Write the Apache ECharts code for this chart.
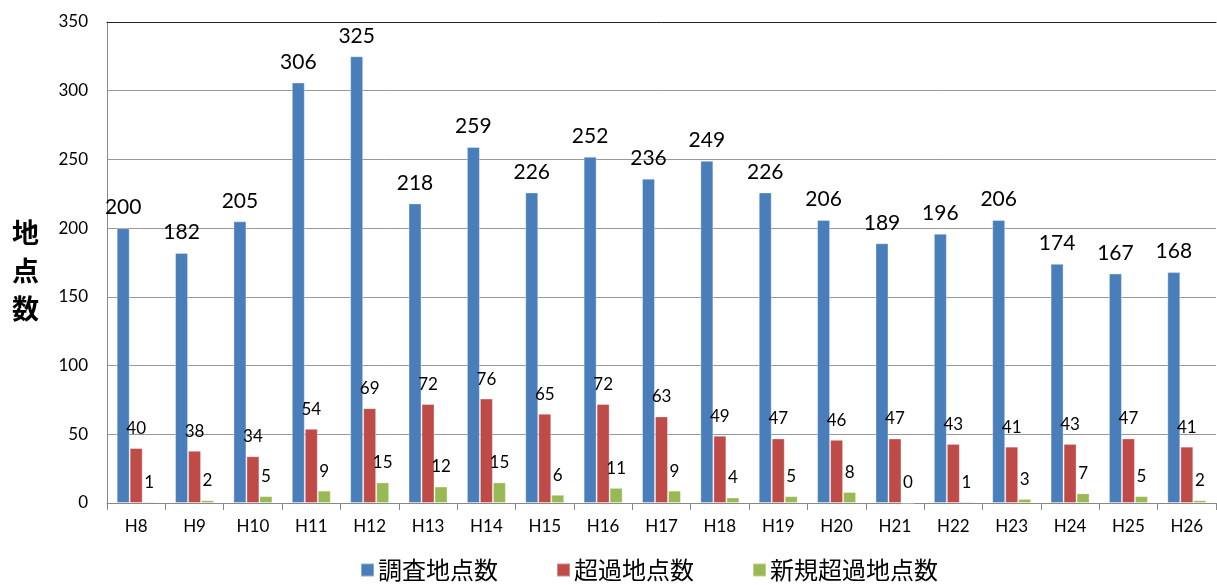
<!DOCTYPE html>
<html>
<head>
<meta charset="utf-8">
<script src="https://cdn.jsdelivr.net/npm/echarts@6/dist/echarts.min.js"></script>
<style>
  html, body { margin: 0; padding: 0; background: #fff; }
  #chart { width: 1217px; height: 585px; }
</style>
</head>
<body>
<div id="chart"></div>
<script>
const categories = ["H8", "H9", "H10", "H11", "H12", "H13", "H14", "H15", "H16", "H17",
  "H18", "H19", "H20", "H21", "H22", "H23", "H24", "H25", "H26"];
const surveyed = [200, 182, 205, 306, 325, 218, 259, 226, 252, 236, 249, 226, 206, 189, 196, 206, 174, 167, 168];
const exceeded = [40, 38, 34, 54, 69, 72, 76, 65, 72, 63, 49, 47, 46, 47, 43, 41, 43, 47, 41];
const newExceeded = [1, 2, 5, 9, 15, 12, 15, 6, 11, 9, 4, 5, 8, 0, 1, 3, 7, 5, 2];
const seriesNames = ["調査地点数", "超過地点数", "新規超過地点数"];

const latin = "Lato, 'Open Sans', sans-serif";
const jp = "'Noto Sans CJK JP', sans-serif";

const chart = echarts.init(document.getElementById("chart"));

function barSeries(name, data, color, fontSize, dist) {
  return {
    name: name,
    type: "bar",
    data: data,
    barWidth: 13,
    barGap: "0%",
    itemStyle: { color: color, borderColor: "rgba(255,255,255,0.35)", borderWidth: 1 },
    label: {
      show: true,
      position: "top",
      distance: dist,
      color: "#000",
      fontSize: fontSize,
      fontFamily: latin
    }
  };
}

chart.setOption({
  animation: false,
  grid: { left: 107, right: 1, top: 22, bottom: 82 },
  legend: {
    top: 558,
    left: 360,
    padding: 0,
    itemWidth: 13,
    itemHeight: 13,
    itemGap: 58,
    icon: "rect",
    textStyle: { fontSize: 24, fontFamily: jp, color: "#000", padding: [0, 0, 0, -1] },
    data: seriesNames
  },
  graphic: [{
    type: "text",
    left: 12,
    top: 214,
    style: {
      text: "地\n点\n数",
      font: "bold 27px 'Noto Sans CJK JP', sans-serif",
      lineHeight: 38,
      fill: "#000"
    }
  }],
  xAxis: [{
    type: "category",
    data: categories,
    axisLine: { lineStyle: { color: "#888" } },
    axisTick: { show: true, length: 7, alignWithLabel: false, lineStyle: { color: "#888" } },
    axisLabel: { color: "#000", fontSize: 17, fontFamily: latin, margin: 15 }
  }, {
    type: "category",
    position: "top",
    data: categories,
    axisLine: { lineStyle: { color: "#222" } },
    axisTick: { show: false },
    axisLabel: { show: false }
  }],
  yAxis: {
    type: "value",
    min: 0,
    max: 350,
    interval: 50,
    axisLine: { show: true, lineStyle: { color: "#888" } },
    axisTick: { show: false },
    axisLabel: { color: "#000", fontSize: 17, fontFamily: latin, margin: 19 },
    splitLine: { lineStyle: { color: "#999" } }
  },
  series: [
    barSeries(seriesNames[0], surveyed, "#4A7EBB", 21, 10),
    barSeries(seriesNames[1], exceeded, "#BE4B48", 17, 11),
    barSeries(seriesNames[2], newExceeded, "#98B954", 17, 11)
  ]
});
</script>
</body>
</html>
